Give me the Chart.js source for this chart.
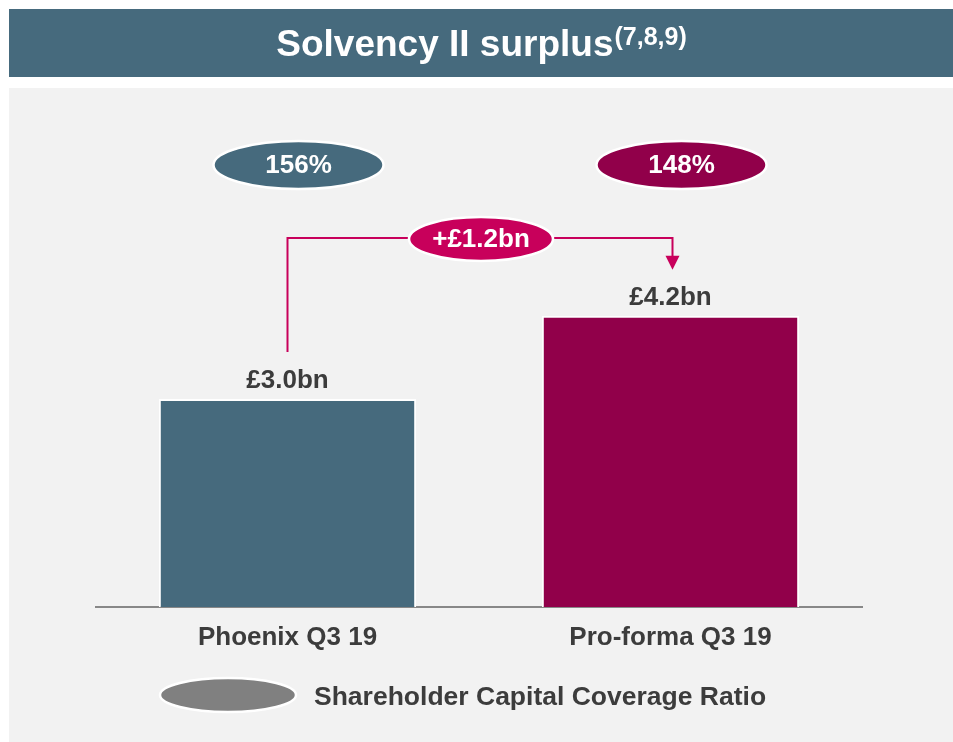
<!DOCTYPE html>
<html>
<head>
<meta charset="utf-8">
<script src="https://cdn.jsdelivr.net/npm/chart.js@4/dist/chart.umd.min.js"></script>
<style>
html,body{margin:0;padding:0;background:#fff;}
#wrap{width:953px;height:742px;}
</style>
</head>
<body>
<div id="wrap"><canvas id="c" width="953" height="742"></canvas></div>
<script>
const categories = ['Phoenix Q3 19', 'Pro-forma Q3 19'];
const surplusValues = [3.0, 4.2];
const surplusLabels = ['£3.0bn', '£4.2bn'];
const coverageRatios = ['156%', '148%'];
const changeLabel = '+£1.2bn';
const legendLabel = 'Shareholder Capital Coverage Ratio';
const titleText = 'Solvency II surplus';
const titleNote = '(7,8,9)';

const BLUE = '#466a7d';
const PLUM = '#91004a';
const PINK = '#c8005b';
const GREY = '#808080';
const TEXT = '#3c3c3c';
const FONT = '"Liberation Sans", Arial, sans-serif';

function ellipse(ctx, cx, cy, rx, ry, fill, label, fontSize) {
  ctx.save();
  ctx.beginPath();
  ctx.ellipse(cx, cy, rx, ry, 0, 0, Math.PI * 2);
  ctx.fillStyle = fill;
  ctx.fill();
  ctx.lineWidth = 2.5;
  ctx.strokeStyle = '#ffffff';
  ctx.stroke();
  if (label) {
    ctx.fillStyle = '#ffffff';
    ctx.font = 'bold ' + fontSize + 'px ' + FONT;
    ctx.textAlign = 'center';
    ctx.textBaseline = 'middle';
    ctx.fillText(label, cx, cy + 1);
  }
  ctx.restore();
}

const decor = {
  id: 'decor',
  beforeDraw(chart) {
    const ctx = chart.ctx;
    ctx.save();
    ctx.fillStyle = '#ffffff';
    ctx.fillRect(0, 0, 953, 742);
    ctx.fillStyle = BLUE;
    ctx.fillRect(9, 9, 944, 68);
    ctx.fillStyle = '#f2f2f2';
    ctx.fillRect(9, 88, 944, 654);
    // title
    ctx.fillStyle = '#ffffff';
    ctx.textBaseline = 'alphabetic';
    ctx.font = 'bold 37px ' + FONT;
    const w1 = ctx.measureText(titleText).width;
    ctx.font = 'bold 25px ' + FONT;
    const w2 = ctx.measureText(titleNote).width;
    const x0 = 481 - (w1 + w2) / 2;
    ctx.font = 'bold 37px ' + FONT;
    ctx.textAlign = 'left';
    ctx.fillText(titleText, x0, 56);
    ctx.font = 'bold 25px ' + FONT;
    ctx.fillText(titleNote, x0 + w1 + 1, 45);
    ctx.restore();
  },
  afterDatasetsDraw(chart) {
    const ctx = chart.ctx;
    const meta = chart.getDatasetMeta(0);
    const b0 = meta.data[0], b1 = meta.data[1];
    ctx.save();
    // value labels
    ctx.fillStyle = TEXT;
    ctx.font = 'bold 26px ' + FONT;
    ctx.textAlign = 'center';
    ctx.textBaseline = 'middle';
    meta.data.forEach((bar, i) => {
      ctx.fillText(surplusLabels[i], bar.x, bar.y - 18);
    });
    // ratio ellipses
    const cols = [BLUE, PLUM];
    meta.data.forEach((bar, i) => {
      ellipse(ctx, bar.x + 11, 165, 85, 24, cols[i], coverageRatios[i], 26);
    });
    // connector
    const yTop = 238;
    const yStart = b0.y - 47;
    const yTip = b1.y - 46;
    ctx.strokeStyle = PINK;
    ctx.lineWidth = 2;
    ctx.beginPath();
    ctx.moveTo(b0.x, yStart);
    ctx.lineTo(b0.x, yTop);
    ctx.lineTo(b1.x + 2, yTop);
    ctx.lineTo(b1.x + 2, yTip - 12);
    ctx.stroke();
    ctx.fillStyle = PINK;
    ctx.beginPath();
    ctx.moveTo(b1.x + 2 - 7, yTip - 14);
    ctx.lineTo(b1.x + 2 + 7, yTip - 14);
    ctx.lineTo(b1.x + 2, yTip);
    ctx.closePath();
    ctx.fill();
    ellipse(ctx, 481, 239, 72, 22, PINK, changeLabel, 26);
    // legend
    ellipse(ctx, 228, 695, 68, 17, GREY, '', 0);
    ctx.fillStyle = TEXT;
    ctx.font = 'bold 26.5px ' + FONT;
    ctx.textAlign = 'left';
    ctx.textBaseline = 'middle';
    ctx.fillText(legendLabel, 314, 698);
    ctx.restore();
  }
};

new Chart(document.getElementById('c'), {
  type: 'bar',
  data: {
    labels: categories,
    datasets: [{
      data: surplusValues,
      backgroundColor: [BLUE, PLUM],
      borderColor: '#ffffff',
      borderWidth: 2,
      borderSkipped: 'bottom',
      categoryPercentage: 1,
      barPercentage: 0.672
    }]
  },
  options: {
    responsive: false,
    animation: false,
    layout: { padding: { left: 96, right: 91, top: 191, bottom: 0 } },
    plugins: { legend: { display: false }, tooltip: { enabled: false } },
    scales: {
      y: { display: false, min: 0, max: 6 },
      x: {
        grid: { display: false },
        border: { display: true, color: '#888888', width: 2 },
        ticks: { color: TEXT, padding: 7, font: { family: FONT, size: 26, weight: 'bold' } },
        afterFit(scale) { scale.height = 135; }
      }
    }
  },
  plugins: [decor]
});
</script>
</body>
</html>
